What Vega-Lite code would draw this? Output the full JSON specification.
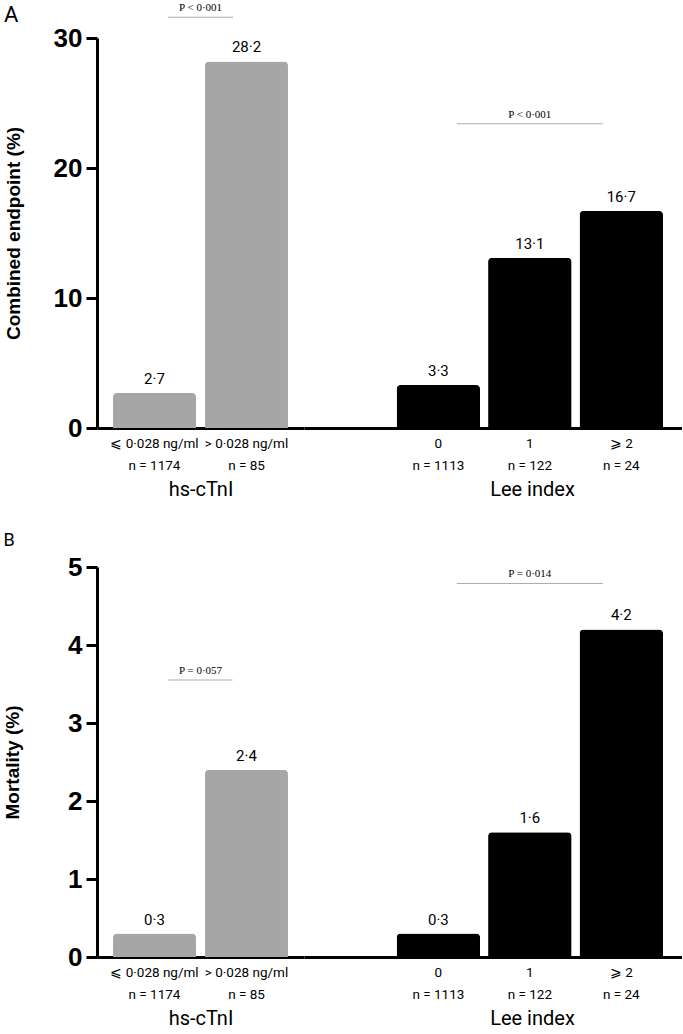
{
  "$schema": "https://vega.github.io/schema/vega-lite/v6.json",
  "padding": {"left": 3, "top": 2, "right": 0, "bottom": 4},
  "background": "white",
  "datasets": {
    "bars": [
      {"panel": "A", "group": "hs-cTnI", "cat": "⩽ 0·028 ng/ml|n = 1174", "value": 2.7},
      {"panel": "A", "group": "hs-cTnI", "cat": "> 0·028 ng/ml|n = 85", "value": 28.2},
      {"panel": "A", "group": "Lee index", "cat": "0|n = 1113", "value": 3.3},
      {"panel": "A", "group": "Lee index", "cat": "1|n = 122", "value": 13.1},
      {"panel": "A", "group": "Lee index", "cat": "⩾ 2|n = 24", "value": 16.7},
      {"panel": "B", "group": "hs-cTnI", "cat": "⩽ 0·028 ng/ml|n = 1174", "value": 0.3},
      {"panel": "B", "group": "hs-cTnI", "cat": "> 0·028 ng/ml|n = 85", "value": 2.4},
      {"panel": "B", "group": "Lee index", "cat": "0|n = 1113", "value": 0.3},
      {"panel": "B", "group": "Lee index", "cat": "1|n = 122", "value": 1.6},
      {"panel": "B", "group": "Lee index", "cat": "⩾ 2|n = 24", "value": 4.2}
    ],
    "pvals": [
      {"panel": "A", "group": "hs-cTnI", "cat": "", "p": "P < 0·001", "level": 31.6},
      {"panel": "A", "group": "Lee index", "cat": "1|n = 122", "p": "P < 0·001", "level": 23.4},
      {"panel": "B", "group": "hs-cTnI", "cat": "", "p": "P = 0·057", "level": 3.55},
      {"panel": "B", "group": "Lee index", "cat": "1|n = 122", "p": "P = 0·014", "level": 4.79}
    ]
  },
  "config": {
    "view": {"stroke": null},
    "locale": {"number": {"decimal": "·", "thousands": ",", "grouping": [3], "currency": ["", ""]}},
    "font": "Roboto",
    "axisY": {
      "domainColor": "black", "domainWidth": 3, "tickColor": "black", "tickWidth": 3, "tickSize": 11, "format": "d",
      "labelFont": "Liberation Sans", "labelFontWeight": "bold", "labelFontSize": 26, "labelColor": "black", "labelPadding": 4,
      "titleFont": "Liberation Sans", "titleFontWeight": "bold", "titleFontSize": 19, "titleColor": "black", "grid": false
    },
    "axisX": {
      "domainColor": "black", "domainWidth": 3, "ticks": false, "labelAngle": 0,
      "labelFont": "Roboto", "labelFontSize": 13.5, "labelColor": "black", "labelLineHeight": 22, "labelPadding": 8,
      "titleFont": "Roboto", "titleFontWeight": "normal", "titleFontSize": 20, "titleColor": "black", "titlePadding": 8
    },
    "title": {"anchor": "start", "font": "Roboto", "fontWeight": "normal", "color": "black", "frame": "bounds"}
  },
  "spacing": 32,
  "vconcat": [
    {
      "title": {"text": "A", "fontSize": 22, "offset": -25},
      "spacing": 0,
      "hconcat": [
        {
          "width": 207, "height": 390,
          "resolve": {"scale": {"x": "independent"}},
          "layer": [
            {
              "layer": [
                {
                  "data": {"name": "bars"},
                  "transform": [{"filter": "datum.panel === 'A' && datum.group === 'hs-cTnI'"}],
                  "mark": {"type": "bar", "color": "#a6a6a6", "cornerRadiusTopLeft": 4, "cornerRadiusTopRight": 4},
                  "encoding": {
                    "x": {"field": "cat", "type": "nominal", "sort": null,
                      "scale": {"paddingInner": 0.098, "paddingOuter": 0.174},
                      "axis": {"title": "hs-cTnI", "labelExpr": "split(datum.label, '|')"}},
                    "y": {"field": "value", "type": "quantitative", "scale": {"domain": [0, 30]},
                      "axis": {"title": "Combined endpoint (%)", "values": [0, 10, 20, 30], "titlePadding": 30}}
                  }
                },
                {
                  "data": {"name": "bars"},
                  "transform": [{"filter": "datum.panel === 'A' && datum.group === 'hs-cTnI'"}],
                  "mark": {"type": "text", "baseline": "bottom", "dy": -6, "fontSize": 15, "font": "Roboto", "color": "black"},
                  "encoding": {
                    "x": {"field": "cat", "type": "nominal", "sort": null},
                    "y": {"field": "value", "type": "quantitative"},
                    "text": {"field": "value", "type": "quantitative", "format": ".1f"}
                  }
                }
              ]
            },
            {
              "layer": [
                {
                  "data": {"name": "pvals"},
                  "transform": [{"filter": "datum.panel === 'A' && datum.group === 'hs-cTnI'"}],
                  "mark": {"type": "tick", "orient": "horizontal", "size": 65, "thickness": 1, "color": "#8a8a8a"},
                  "encoding": {
                    "x": {"field": "group", "type": "nominal", "axis": null, "scale": {"paddingInner": 0, "paddingOuter": 0}},
                    "y": {"field": "level", "type": "quantitative"}
                  }
                },
                {
                  "data": {"name": "pvals"},
                  "transform": [{"filter": "datum.panel === 'A' && datum.group === 'hs-cTnI'"}],
                  "mark": {"type": "text", "baseline": "bottom", "dy": -4, "fontSize": 11, "font": "Liberation Serif", "color": "black"},
                  "encoding": {
                    "x": {"field": "group", "type": "nominal"},
                    "y": {"field": "level", "type": "quantitative"},
                    "text": {"field": "p"}
                  }
                }
              ]
            }
          ]
        },
        {
          "width": 378, "height": 390,
          "layer": [
            {
              "data": {"name": "bars"},
              "transform": [{"filter": "datum.panel === 'A' && datum.group === 'Lee index'"}],
              "mark": {"type": "bar", "color": "black", "cornerRadiusTopLeft": 4, "cornerRadiusTopRight": 4},
              "encoding": {
                "x": {"field": "cat", "type": "nominal", "sort": null,
                  "scale": {"paddingInner": 0.087, "paddingOuter": 0.61, "align": 0.83},
                  "axis": {"title": "Lee index", "titleX": 228, "labelExpr": "split(datum.label, '|')"}},
                "y": {"field": "value", "type": "quantitative", "scale": {"domain": [0, 30]}, "axis": null}
              }
            },
            {
              "data": {"name": "bars"},
              "transform": [{"filter": "datum.panel === 'A' && datum.group === 'Lee index'"}],
              "mark": {"type": "text", "baseline": "bottom", "dy": -6, "fontSize": 15, "font": "Roboto", "color": "black"},
              "encoding": {
                "x": {"field": "cat", "type": "nominal", "sort": null},
                "y": {"field": "value", "type": "quantitative"},
                "text": {"field": "value", "type": "quantitative", "format": ".1f"}
              }
            },
            {
              "data": {"name": "pvals"},
              "transform": [{"filter": "datum.panel === 'A' && datum.group === 'Lee index'"}],
              "mark": {"type": "tick", "orient": "horizontal", "size": 146, "thickness": 1, "color": "#8a8a8a"},
              "encoding": {
                "x": {"field": "cat", "type": "nominal", "sort": null},
                "y": {"field": "level", "type": "quantitative"}
              }
            },
            {
              "data": {"name": "pvals"},
              "transform": [{"filter": "datum.panel === 'A' && datum.group === 'Lee index'"}],
              "mark": {"type": "text", "baseline": "bottom", "dy": -4, "fontSize": 11, "font": "Liberation Serif", "color": "black"},
              "encoding": {
                "x": {"field": "cat", "type": "nominal", "sort": null},
                "y": {"field": "level", "type": "quantitative"},
                "text": {"field": "p"}
              }
            }
          ]
        }
      ]
    },
    {
      "title": {"text": "B", "fontSize": 18, "offset": 4},
      "spacing": 0,
      "hconcat": [
        {
          "width": 207, "height": 390,
          "resolve": {"scale": {"x": "independent"}},
          "layer": [
            {
              "layer": [
                {
                  "data": {"name": "bars"},
                  "transform": [{"filter": "datum.panel === 'B' && datum.group === 'hs-cTnI'"}],
                  "mark": {"type": "bar", "color": "#a6a6a6", "cornerRadiusTopLeft": 4, "cornerRadiusTopRight": 4},
                  "encoding": {
                    "x": {"field": "cat", "type": "nominal", "sort": null,
                      "scale": {"paddingInner": 0.098, "paddingOuter": 0.174},
                      "axis": {"title": "hs-cTnI", "labelExpr": "split(datum.label, '|')"}},
                    "y": {"field": "value", "type": "quantitative", "scale": {"domain": [0, 5]},
                      "axis": {"title": "Mortality (%)", "values": [0, 1, 2, 3, 4, 5], "titlePadding": 45}}
                  }
                },
                {
                  "data": {"name": "bars"},
                  "transform": [{"filter": "datum.panel === 'B' && datum.group === 'hs-cTnI'"}],
                  "mark": {"type": "text", "baseline": "bottom", "dy": -6, "fontSize": 15, "font": "Roboto", "color": "black"},
                  "encoding": {
                    "x": {"field": "cat", "type": "nominal", "sort": null},
                    "y": {"field": "value", "type": "quantitative"},
                    "text": {"field": "value", "type": "quantitative", "format": ".1f"}
                  }
                }
              ]
            },
            {
              "layer": [
                {
                  "data": {"name": "pvals"},
                  "transform": [{"filter": "datum.panel === 'B' && datum.group === 'hs-cTnI'"}],
                  "mark": {"type": "tick", "orient": "horizontal", "size": 64, "thickness": 1, "color": "#8a8a8a"},
                  "encoding": {
                    "x": {"field": "group", "type": "nominal", "axis": null, "scale": {"paddingInner": 0, "paddingOuter": 0}},
                    "y": {"field": "level", "type": "quantitative"}
                  }
                },
                {
                  "data": {"name": "pvals"},
                  "transform": [{"filter": "datum.panel === 'B' && datum.group === 'hs-cTnI'"}],
                  "mark": {"type": "text", "baseline": "bottom", "dy": -4, "fontSize": 11, "font": "Liberation Serif", "color": "black"},
                  "encoding": {
                    "x": {"field": "group", "type": "nominal"},
                    "y": {"field": "level", "type": "quantitative"},
                    "text": {"field": "p"}
                  }
                }
              ]
            }
          ]
        },
        {
          "width": 378, "height": 390,
          "layer": [
            {
              "data": {"name": "bars"},
              "transform": [{"filter": "datum.panel === 'B' && datum.group === 'Lee index'"}],
              "mark": {"type": "bar", "color": "black", "cornerRadiusTopLeft": 4, "cornerRadiusTopRight": 4},
              "encoding": {
                "x": {"field": "cat", "type": "nominal", "sort": null,
                  "scale": {"paddingInner": 0.087, "paddingOuter": 0.61, "align": 0.83},
                  "axis": {"title": "Lee index", "titleX": 228, "labelExpr": "split(datum.label, '|')"}},
                "y": {"field": "value", "type": "quantitative", "scale": {"domain": [0, 5]}, "axis": null}
              }
            },
            {
              "data": {"name": "bars"},
              "transform": [{"filter": "datum.panel === 'B' && datum.group === 'Lee index'"}],
              "mark": {"type": "text", "baseline": "bottom", "dy": -6, "fontSize": 15, "font": "Roboto", "color": "black"},
              "encoding": {
                "x": {"field": "cat", "type": "nominal", "sort": null},
                "y": {"field": "value", "type": "quantitative"},
                "text": {"field": "value", "type": "quantitative", "format": ".1f"}
              }
            },
            {
              "data": {"name": "pvals"},
              "transform": [{"filter": "datum.panel === 'B' && datum.group === 'Lee index'"}],
              "mark": {"type": "tick", "orient": "horizontal", "size": 146, "thickness": 1, "color": "#8a8a8a"},
              "encoding": {
                "x": {"field": "cat", "type": "nominal", "sort": null},
                "y": {"field": "level", "type": "quantitative"}
              }
            },
            {
              "data": {"name": "pvals"},
              "transform": [{"filter": "datum.panel === 'B' && datum.group === 'Lee index'"}],
              "mark": {"type": "text", "baseline": "bottom", "dy": -4, "fontSize": 11, "font": "Liberation Serif", "color": "black"},
              "encoding": {
                "x": {"field": "cat", "type": "nominal", "sort": null},
                "y": {"field": "level", "type": "quantitative"},
                "text": {"field": "p"}
              }
            }
          ]
        }
      ]
    }
  ]
}
